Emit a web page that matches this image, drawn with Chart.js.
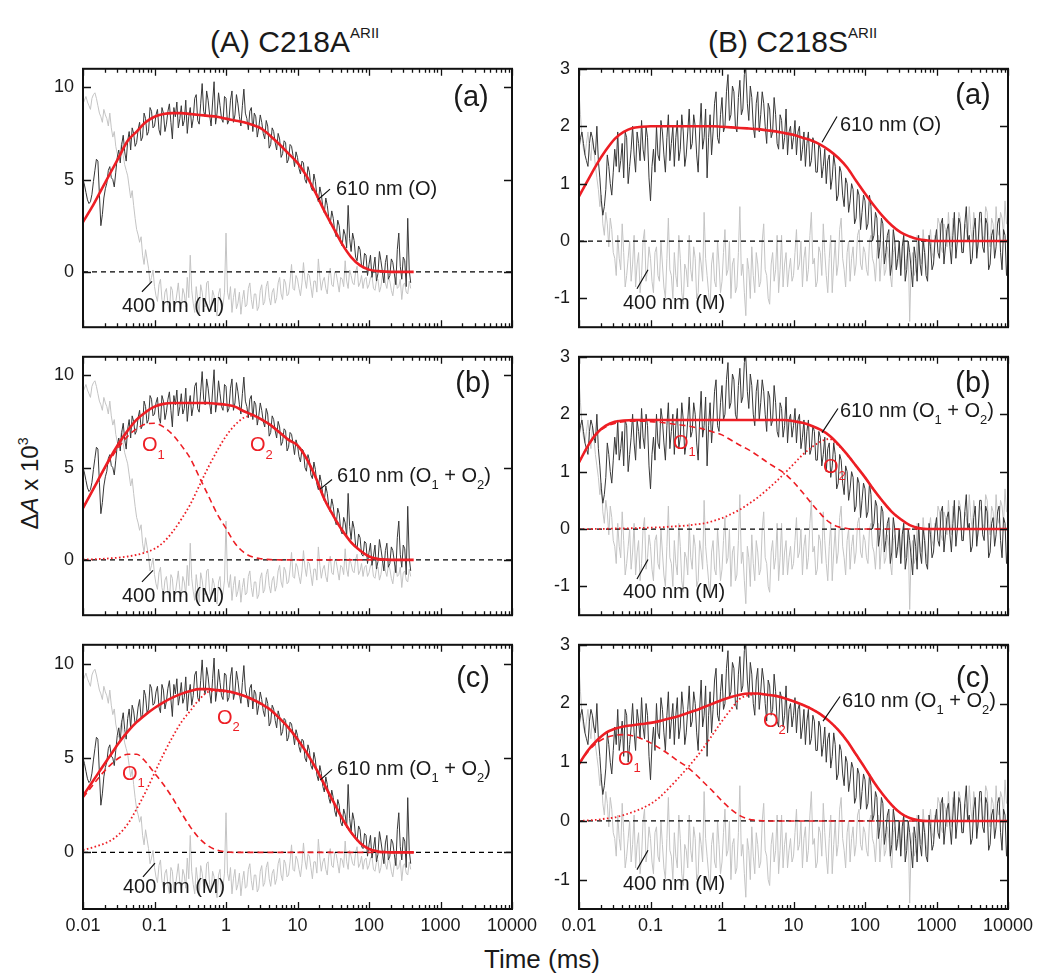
<!DOCTYPE html>
<html>
<head>
<meta charset="utf-8">
<title>Transient absorption, C218A / C218S</title>
<script src="https://cdn.jsdelivr.net/npm/chart.js@4.4.1/dist/chart.umd.min.js"></script>
<style>
  body { margin: 0; background: #fff; }
  #page { position: relative; width: 1037px; height: 974px; overflow: hidden; font-family: "Liberation Sans", Arial, sans-serif; color: #1a1a1a; }
  #page canvas { position: absolute; }
  .head { position: absolute; top: 15px; font-size: 30px; line-height: 36px; white-space: nowrap; }
  .head span { font-size: 15px; vertical-align: 14px; }
  #xtitle { position: absolute; left: 442px; top: 944px; width: 200px; text-align: center; font-size: 26px; line-height: 30px; }
  #ytitle { position: absolute; left: -74px; top: 465px; width: 200px; text-align: center; font-size: 24px; line-height: 30px; transform: rotate(-90deg); white-space: nowrap; }
  #ytitle span { font-size: 14px; vertical-align: 10px; }
</style>
</head>
<body>
<div id="page">
  <div class="head" style="left:210px">(A) C218A<span>ARII</span></div>
  <div class="head" style="left:708px">(B) C218S<span>ARII</span></div>
  <div id="ytitle">Δ<i>A</i> x 10<span>3</span></div>
  <div id="xtitle">Time (ms)</div>
  <canvas id="la"></canvas>
  <canvas id="lb"></canvas>
  <canvas id="lc"></canvas>
  <canvas id="ra"></canvas>
  <canvas id="rb"></canvas>
  <canvas id="rc"></canvas>
</div>
<script>
// time grids (ms): log steps inside each decade
const decadeStarts = [0.01, 0.1, 1, 10, 100, 1000];
const noiseSteps = [1, 1.049, 1.1, 1.155, 1.212, 1.271, 1.334, 1.4, 1.468, 1.54, 1.616, 1.696,
  1.778, 1.866, 1.957, 2.054, 2.154, 2.261, 2.371, 2.488, 2.61, 2.738, 2.873, 3.014,
  3.162, 3.318, 3.481, 3.652, 3.831, 4.019, 4.217, 4.424, 4.642, 4.87, 5.109, 5.36,
  5.623, 5.9, 6.19, 6.494, 6.813, 7.148, 7.499, 7.867, 8.254, 8.66, 9.085, 9.532];
const fitSteps = [1, 1.334, 1.778, 2.371, 3.162, 4.217, 5.623, 7.499];
const minorSteps = [2, 3, 4, 5, 6, 7, 8, 9];

const xTickValues = [0.01, 0.1, 1, 10, 100, 1000, 10000];
const xTickLabels = ['0.01', '0.1', '1', '10', '100', '1000', '10000'];
const yTicksA = [0, 5, 10];
const yTicksB = [-1, 0, 1, 2, 3];

// (A) C218A raw traces, 0.01 .. ~380 ms
const dark610A = [
  5.0, 4.7, 4.3, 3.9, 3.7, 3.8, 4.2, 4.9, 5.5, 6.1, 6.0, 4.2, 2.5, 3.1, 4.0, 4.5, 4.8, 5.5, 5.7, 5.1, 5.0, 4.6, 5.4, 6.2,
  6.6, 5.9, 6.9, 7.4, 6.5, 6.0, 7.1, 7.6, 6.6, 7.8, 7.5, 6.8, 7.0, 7.7, 8.1, 7.1, 7.3, 8.6, 8.3, 7.4, 7.6, 8.9, 8.7, 7.8,
  7.9, 8.5, 8.8, 7.7, 7.4, 8.9, 8.6, 7.6, 8.0, 8.7, 9.1, 8.1, 7.2, 8.9, 8.4, 9.2, 7.8, 8.3, 9.0, 7.9, 8.2, 9.3, 7.5, 8.4,
  8.9, 7.8, 8.3, 9.4, 9.6, 8.2, 8.0, 9.1, 10.2, 8.7, 8.4, 9.8, 9.3, 8.5, 7.9, 9.2, 10.3, 8.0, 8.6, 9.7, 9.0, 8.3, 8.1, 9.5,
  9.4, 8.0, 8.2, 9.3, 9.8, 8.1, 8.5, 9.6, 9.1, 8.4, 7.9, 9.0, 9.9, 8.6, 8.3, 7.7, 8.7, 8.9, 7.6, 8.6, 8.4, 7.3, 7.8, 8.5,
  8.1, 7.5, 7.2, 8.2, 7.9, 6.7, 6.9, 7.8, 7.6, 7.0, 6.6, 7.5, 7.2, 6.2, 6.4, 7.1, 7.0, 5.9, 6.1, 6.9, 6.8, 6.3, 5.7, 6.5,
  6.2, 5.6, 5.3, 6.0, 5.9, 5.0, 4.8, 5.7, 5.4, 4.6, 4.4, 5.3, 4.9, 4.1, 3.8, 4.6, 4.2, 3.5, 3.2, 4.0, 3.6, 2.9, 2.6, 3.3,
  2.9, 2.2, 1.9, 2.8, 2.5, 1.6, 1.4, 2.3, 2.0, 1.3, 3.6, 1.8, 1.1, 2.1, 1.7, 0.8, 0.6, 1.4, 1.2, 0.3, 0.2, 1.0, 0.9, -0.2,
  0.4, 0.9, -0.3, 0.2, 0.8, -0.5, -0.1, 1.1, 0.6, 0.0, -0.6, 0.5, 0.9, -0.4, -0.2, 0.7, 0.5, -0.1, -0.7, 1.2, 2.1, 0.3,
  -0.4, 0.8, 0.6, -0.8, 2.9, 0.1, -0.6
];
const gray400A = [
  9.1, 9.3, 9.5, 9.2, 9.0, 8.8, 9.4, 9.6, 9.7, 9.4, 9.0, 8.6, 8.4, 8.1, 8.8, 8.5, 8.3, 7.9, 8.6, 7.8, 7.3, 7.6, 6.8, 6.4,
  6.1, 6.6, 7.0, 6.3, 5.8, 5.5, 5.2, 4.6, 4.0, 4.4, 3.6, 2.9, 2.3, 2.0, 1.6, 1.9, 0.9, 0.4, 1.2, 0.7, 0.2, -0.6, -0.3, 0.1,
  -0.8, -1.3, -1.6, -0.7, -0.4, -1.5, -1.9, -1.1, -0.9, -1.7, -2.2, -0.8, -1.0, -2.1, -1.8, -1.2, -0.6, -1.6, -2.0, -0.9, -1.2, -1.9, -0.3, -1.4,
  0.9, -1.0, -1.7, -2.2, -0.8, -1.5, -2.3, -0.7, -1.1, -1.8, -1.9, -0.6, -0.5, -1.7, -2.1, -1.0, -1.3, -2.0, -2.4, -1.2, -0.9, -2.2, -1.8, -1.1,
  2.1, -1.1, -1.5, -0.8, -2.2, -1.4, -0.9, -2.0, -1.7, -1.1, -2.3, -1.5, -1.0, -1.9, -1.8, -0.9, -0.6, -1.5, -2.0, -1.2, -1.2, -2.1, -1.9, -1.0,
  -0.7, -1.8, -1.6, -0.8, -0.5, -1.4, -1.8, -1.1, -0.9, -1.7, -1.4, -0.6, -0.3, -1.2, -1.5, -0.4, -0.6, -1.3, -1.2, -0.5, 0.4, -0.9, -1.0, -0.2,
  -0.4, -0.9, -1.3, -0.6, 0.5, -0.4, -0.9, -0.1, -0.2, -0.8, -1.4, -0.5, -0.5, -1.1, 0.7, -0.3, -1.0, -0.5, -0.3, -0.9, -1.2, -0.2, 0.2, -0.7,
  -0.8, 0.0, -0.1, -0.6, -1.1, -0.3, -0.4, -0.8, 0.6, -0.5, -0.9, 0.1, -0.2, -0.6, -0.7, 0.0, 0.3, -0.8, -0.6, -0.2, -0.9, -0.4, -0.3, -0.9,
  -0.7, -0.3, -0.2, -0.9, -1.0, -0.5, -0.4, -1.1, -0.8, -0.2, 0.1, -0.6, -0.9, -0.3, -0.5, -1.0, -1.3, -0.6, -0.3, -0.9, -0.8, -0.4,
  -1.5, -0.7, -0.6, -1.1, -1.2, -0.5, -0.9
];
// (B) C218S raw traces, 0.01 .. 10000 ms
const dark610B = [
  1.6, 1.8, 1.9, 1.7, 1.5, 1.4, 1.3, 1.7, 1.9, 1.8, 1.6, 1.5, 2.0, 1.4, 1.1, 0.7, 0.45, 0.6, 0.9, 1.5, 1.3, 1.0, 0.8, 1.2,
  1.6, 1.3, 1.9, 1.2, 1.4, 1.7, 1.1, 1.9, 1.8, 1.0, 1.3, 1.6, 2.0, 1.5, 1.2, 1.9, 1.7, 1.4, 2.1, 1.6, 1.4, 2.0, 1.8, 1.1,
  0.7, 1.3, 1.6, 1.2, 2.0, 1.5, 1.4, 2.1, 1.9, 1.5, 1.2, 1.8, 2.2, 1.4, 1.7, 2.0, 1.3, 1.8, 2.1, 1.4, 1.6, 2.2, 1.9, 1.3,
  1.5, 1.9, 2.3, 1.6, 1.7, 2.2, 2.0, 1.5, 1.2, 1.9, 2.4, 1.6, 1.8, 2.3, 1.1, 1.8, 2.2, 1.5, 1.9, 2.4, 2.6, 1.8, 1.7, 2.2,
  2.5, 1.9, 2.0, 2.6, 2.9, 2.1, 2.2, 2.7, 2.6, 2.0, 1.9, 2.5, 2.8, 2.2, 2.3, 2.9, 3.0, 2.4, 2.1, 2.7, 2.5, 2.0, 1.8, 2.4,
  2.6, 1.9, 2.2, 2.6, 2.4, 2.0, 1.7, 2.4, 2.3, 1.8, 1.9, 2.5, 2.2, 1.7, 1.6, 2.2, 2.1, 1.6, 1.8, 2.3, 1.5, 1.9, 2.0, 1.6,
  1.8, 2.1, 1.5, 1.9, 2.0, 1.4, 1.6, 1.9, 1.3, 1.7, 1.9, 1.3, 1.4, 1.8, 1.7, 1.2, 1.2, 1.7, 1.6, 1.1, 1.3, 1.6, 1.0, 1.4,
  1.5, 0.9, 1.1, 1.5, 1.3, 0.7, 0.8, 1.3, 1.2, 0.8, 0.6, 1.1, 1.0, 0.5, 0.7, 1.0, 0.9, 0.3, 0.4, 0.9, 0.8, 0.2, 0.5, 0.8,
  0.7, 0.2, 0.3, 0.8, 0.6, 0.0, 0.1, 0.5, 0.4, -0.3, -0.1, 0.4, 0.3, -0.4, -0.2, 0.1, 0.2, -0.6, -0.4, 0.2, 0.0, -0.5, -0.3, 0.0,
  -0.6, -0.1, 0.1, -0.7, -0.5, 0.0, -0.2, -0.5, -0.8, -0.1, -0.3, -0.7, 0.1, -0.4, -0.6, 0.0, -0.2, -0.6, -0.7, 0.1, -0.1, -0.5, -0.4, 0.0,
  0.2, -0.2, -0.3, 0.3, 0.4, -0.4, -0.1, 0.2, 0.3, -0.1, -0.4, 0.1, 0.5, -0.3, 0.0, 0.4, 0.3, -0.2, -0.2, 0.3, 0.6, 0.0, 0.1, -0.4,
  -0.3, 0.2, 0.4, -0.3, 0.0, 0.5, 0.5, -0.1, -0.2, 0.4, 0.3, -0.5, -0.4, 0.1, 0.2, -0.3, -0.1, 0.3, 0.4, -0.2, -0.5, 0.2, 0.1, -0.6,
  -0.3
];
const gray400B = [
  2.6, 2.2, 1.8, 1.6, 1.5, 1.7, 1.9, 1.6, 1.4, 1.8, 1.6, 1.3, 1.1, 0.9, 0.6, 0.8, 0.3, 0.1, 0.5, 0.3, -0.1, 0.4, 0.2, -0.2,
  -0.3, -0.6, 0.1, -0.3, -0.5, 0.3, -0.2, -0.8, -0.6, -0.3, 0.0, -0.7, -0.4, 0.1, -0.8, -0.4, -0.2, -0.9, -0.6, 0.0, 0.2, -0.7, -0.5, -0.1,
  -0.3, -0.7, -0.9, -0.2, -0.1, -0.6, -0.7, 0.0, -0.4, -0.8, -1.0, -0.3, 0.4, -0.5, -0.6, -1.0, -0.2, -0.6, -0.8, 0.1, -0.3, -0.9, -1.1, -0.4,
  -0.5, -0.8, 0.1, -0.5, -0.7, -0.1, -0.3, -1.0, -0.9, -0.2, -0.4, -0.7, 0.5, -0.3, -0.6, -0.9, -1.2, -0.4, -0.2, -0.7, -0.8, 0.0, -0.4, -0.9,
  -0.7, -0.2, 0.2, -0.6, -0.5, 0.0, -1.0, -0.4, -0.3, -0.9, -0.8, -0.2, 0.6, -0.6, -0.4, -0.9, -1.3, -0.3, -0.5, -1.0, -0.1, -0.6, -0.9, -0.2,
  -0.4, -0.8, -0.7, 0.0, 0.3, -0.5, -0.6, -1.0, -1.1, -0.4, -0.2, -0.7, -0.5, 0.1, -0.9, -0.5, 0.1, -0.8, -0.4, -0.2, -0.8, -0.5, -0.3, -0.7,
  -0.6, -0.2, 0.2, -0.5, -0.4, 0.0, -0.8, -0.3, -0.1, -0.7, -0.5, 0.1, 0.5, -0.4, -0.3, -0.8, -0.7, -0.1, -0.2, -0.6, 0.3, -0.2, -0.6, -0.9,
  -0.3, 0.1, -0.9, -0.4, 0.0, -0.6, -0.4, 0.2, 0.4, -0.3, -0.5, -0.8, -0.2, 0.0, -0.7, -0.3, -0.1, -0.6, -0.4, 0.1, 0.2, -0.4, -0.5, -0.1,
  -0.2, -0.5, -0.6, 0.0, 0.1, -0.3, -0.4, -0.7, -0.2, 0.1, -0.7, -0.3, 0.0, -0.6, -0.5, -0.1, -0.3, -0.6, -0.8, -0.2, -0.1, -0.5, -0.4, 0.0,
  -0.6, -0.3, 0.1, -0.5, -0.3, -0.1, -1.4, -0.4, -0.2, -0.6, -0.5, 0.1, 0.0, -0.3, -0.4, 0.2, -0.1, -0.4, -0.6, 0.0, 0.2, -0.2, -0.3, 0.1,
  0.0, 0.4, 0.3, -0.1, -0.2, 0.3, 0.2, -0.1, 0.5, 0.1, -0.1, 0.4, 0.3, 0.0, 0.0, 0.5, 0.4, -0.1, -0.2, 0.3, 0.2, 0.0, 0.6, 0.2,
  0.0, 0.5, 0.3, -0.2, -0.1, 0.3, 0.4, 0.0, 0.1, 0.6, 0.5, 0.1, -0.1, 0.4, 0.3, 0.0, 0.6, 0.2, 0.1, 0.5, 0.4, 0.1, 0.7, 0.3,
  0.3
];

// fitted curves on the coarse grid
const fitA_a = [2.7, 3.5, 4.4, 5.3, 6.2, 7.1, 7.6, 8.1, 8.4, 8.55, 8.6, 8.6, 8.55, 8.5, 8.45, 8.4, 8.3, 8.2, 8.1, 7.95,
  7.75, 7.35, 6.9, 6.4, 5.9, 5.2, 4.3, 3.3, 2.4, 1.5, 0.8, 0.35, 0.12, 0.04, 0.01, 0, 0, 0];
const fitA_b = [2.8, 3.7, 4.6, 5.5, 6.3, 7.0, 7.6, 8.0, 8.3, 8.45, 8.5, 8.5, 8.5, 8.5, 8.5, 8.45, 8.4, 8.3, 8.05, 7.85,
  7.6, 7.3, 6.9, 6.5, 6.2, 5.5, 4.5, 3.3, 2.4, 1.6, 0.95, 0.5, 0.18, 0.05, 0.01, 0, 0, 0];
const o1A_b = [2.8, 3.7, 4.6, 5.4, 6.1, 6.7, 7.1, 7.35, 7.4, 7.2, 6.8, 6.2, 5.5, 4.5, 3.5, 2.5, 1.7, 0.9, 0.4, 0.15,
  0.05, 0.01, 0, 0, 0, 0, 0, 0, 0, 0, 0, 0, 0, 0, 0, 0, 0, 0];
const o2A_b = [0.02, 0.03, 0.05, 0.08, 0.12, 0.18, 0.27, 0.4, 0.6, 0.95, 1.5, 2.2, 3.0, 4.0, 5.0, 5.9, 6.7, 7.3, 7.7, 7.8,
  7.6, 7.3, 6.9, 6.5, 6.2, 5.5, 4.5, 3.3, 2.4, 1.6, 0.95, 0.5, 0.18, 0.05, 0.01, 0, 0, 0];
const fitA_c = [3.0, 3.7, 4.4, 5.1, 5.8, 6.4, 6.9, 7.3, 7.65, 7.95, 8.2, 8.4, 8.55, 8.65, 8.65, 8.6, 8.55, 8.45, 8.3, 8.1,
  7.85, 7.55, 7.1, 6.6, 6.0, 5.3, 4.5, 3.6, 2.7, 1.8, 1.05, 0.5, 0.18, 0.05, 0.01, 0, 0, 0];
const o1A_c = [2.9, 3.5, 4.1, 4.6, 5.0, 5.2, 5.2, 4.8, 4.2, 3.6, 2.9, 2.1, 1.35, 0.75, 0.35, 0.12, 0.03, 0, 0, 0,
  0, 0, 0, 0, 0, 0, 0, 0, 0, 0, 0, 0, 0, 0, 0, 0, 0, 0];
const o2A_c = [0.12, 0.25, 0.4, 0.6, 0.95, 1.5, 2.3, 3.2, 4.2, 5.2, 6.1, 6.9, 7.5, 8.1, 8.5, 8.55, 8.5, 8.45, 8.3, 8.1,
  7.85, 7.55, 7.1, 6.6, 6.0, 5.3, 4.5, 3.6, 2.7, 1.8, 1.05, 0.5, 0.18, 0.05, 0.01, 0, 0, 0];

const fitB_a = [0.78, 1.06, 1.34, 1.58, 1.78, 1.9, 1.97, 1.99, 2.0, 2.0, 2.0, 2.0, 2.0, 2.0, 2.0, 2.0,
  1.99, 1.98, 1.97, 1.96, 1.95, 1.93, 1.91, 1.88, 1.85, 1.8, 1.75, 1.68, 1.58, 1.45, 1.28, 1.05,
  0.83, 0.62, 0.43, 0.27, 0.15, 0.08, 0.03, 0.01, 0, 0, 0, 0, 0, 0, 0, 0, 0];
const fitB_b = [1.16, 1.45, 1.67, 1.8, 1.87, 1.89, 1.9, 1.9, 1.9, 1.9, 1.9, 1.9, 1.9, 1.9, 1.9, 1.9,
  1.9, 1.9, 1.9, 1.9, 1.9, 1.9, 1.9, 1.9, 1.88, 1.85, 1.8, 1.73, 1.63, 1.48, 1.3, 1.1,
  0.9, 0.68, 0.48, 0.3, 0.17, 0.07, 0.02, 0, 0, 0, 0, 0, 0, 0, 0, 0, 0];
const o1B_b = [1.16, 1.45, 1.66, 1.78, 1.84, 1.87, 1.88, 1.88, 1.87, 1.86, 1.84, 1.82, 1.8, 1.77, 1.74, 1.69,
  1.64, 1.55, 1.46, 1.38, 1.28, 1.17, 1.07, 0.97, 0.82, 0.64, 0.45, 0.27, 0.12, 0.04, 0.01, 0,
  0, 0, 0, 0, 0, 0, 0, 0, 0, 0, 0, 0, 0, 0, 0, 0, 0];
const o2B_b = [0, 0, 0.005, 0.005, 0.01, 0.01, 0.015, 0.02, 0.025, 0.03, 0.04, 0.05, 0.06, 0.08, 0.1, 0.14,
  0.19, 0.26, 0.34, 0.44, 0.55, 0.68, 0.82, 0.97, 1.13, 1.29, 1.42, 1.52, 1.57, 1.46, 1.3, 1.1,
  0.9, 0.68, 0.48, 0.3, 0.17, 0.07, 0.02, 0, 0, 0, 0, 0, 0, 0, 0, 0, 0];
const fitB_c = [0.97, 1.2, 1.37, 1.5, 1.57, 1.61, 1.63, 1.65, 1.67, 1.7, 1.74, 1.78, 1.83, 1.88, 1.94, 2.0,
  2.06, 2.11, 2.15, 2.17, 2.17, 2.15, 2.13, 2.09, 2.04, 1.98, 1.91, 1.82, 1.7, 1.55, 1.36, 1.13,
  0.9, 0.66, 0.45, 0.27, 0.13, 0.05, 0.01, 0, 0, 0, 0, 0, 0, 0, 0, 0, 0];
const o1B_c = [0.97, 1.18, 1.33, 1.42, 1.46, 1.47, 1.45, 1.4, 1.33, 1.24, 1.14, 1.03, 0.93, 0.8, 0.65, 0.5,
  0.34, 0.2, 0.09, 0.03, 0.01, 0, 0, 0, 0, 0, 0, 0, 0, 0, 0, 0,
  0, 0, 0, 0, 0, 0, 0, 0, 0, 0, 0, 0, 0, 0, 0, 0, 0];
const o2B_c = [0, 0.01, 0.02, 0.04, 0.06, 0.1, 0.15, 0.21, 0.29, 0.4, 0.55, 0.71, 0.88, 1.06, 1.26, 1.48,
  1.7, 1.9, 2.08, 2.14, 2.16, 2.15, 2.13, 2.09, 2.04, 1.98, 1.91, 1.82, 1.7, 1.55, 1.36, 1.13,
  0.9, 0.66, 0.45, 0.27, 0.13, 0.05, 0.01, 0, 0, 0, 0, 0, 0, 0, 0, 0, 0];

const noiseTime = decadeStarts.flatMap(d => noiseSteps.map(s => d * s)).concat([10000]);
const fitTime = decadeStarts.flatMap(d => fitSteps.map(s => d * s)).concat([10000]);
const xTicks = xTickValues.map(v => ({ value: v, major: true }))
  .concat(decadeStarts.flatMap(d => minorSteps.map(s => ({ value: d * s, major: false }))));

const FONT = '"Liberation Sans", Arial, sans-serif';
const RED = 'rgb(237, 30, 36)';
const DARK = '#383838';
const GRAY = '#c4c4c4';

Chart.defaults.font.family = FONT;
Chart.defaults.font.size = 18;
Chart.defaults.color = '#1a1a1a';

const ROWS = [63, 351, 639];
const PLOT_H = 270;
const COLS = {
  L: { canvasLeft: 0, width: 545, axisW: 83, padR: 33, yMin: -3, yMax: 11, yTicks: yTicksA, dark: dark610A, gray: gray400A },
  R: { canvasLeft: 520, width: 517, axisW: 59, padR: 29, yMin: -1.5, yMax: 3, yTicks: yTicksB, dark: dark610B, gray: gray400B }
};

const O12 = ['610 nm (O', ['1'], ' + O', ['2'], ')'];
const panels = [
  { id: 'la', side: 'L', row: 0, total: fitA_a,
    tag: [2673, 9.43, '(a)'],
    notes: [[34.5, 4.48, ['610 nm (O)']], [0.0351, -1.86, ['400 nm (M)']]],
    leaders: [[19.4, 3.92, 28.5, 4.48], [0.0668, -1.08, 0.0923, -0.52]] },
  { id: 'lb', side: 'L', row: 1, total: fitA_b, o1: o1A_b, o2: o2A_b,
    tag: [2851, 9.53, '(b)'],
    notes: [[35.6, 4.51, O12], [0.0351, -1.97, ['400 nm (M)']],
            [0.0668, 6.17, ['O', ['1']], RED], [2.17, 6.17, ['O', ['2']], RED]],
    leaders: [[20.7, 3.83, 30.4, 4.35], [0.0668, -1.19, 0.0953, -0.57]] },
  { id: 'lc', side: 'L', row: 2, total: fitA_c, o1: o1A_c, o2: o2A_c,
    tag: [2851, 9.17, '(c)'],
    notes: [[35.6, 4.4, O12], [0.0362, -1.87, ['400 nm (M)']],
            [0.0351, 4.15, ['O', ['1']], RED], [0.748, 7.1, ['O', ['2']], RED]],
    leaders: [[20.7, 3.83, 30.4, 4.4], [0.069, -1.3, 0.1016, -0.57]] },
  { id: 'ra', side: 'R', row: 0, total: fitB_a,
    tag: [3236, 2.52, '(a)'],
    notes: [[44.7, 2.02, ['610 nm (O)']], [0.0412, -1.08, ['400 nm (M)']]],
    leaders: [[25.1, 1.72, 40.6, 2.17], [0.0647, -0.83, 0.0923, -0.5]] },
  { id: 'rb', side: 'R', row: 1, total: fitB_b, o1: o1B_b, o2: o2B_b,
    tag: [3236, 2.52, '(b)'],
    notes: [[44.7, 2.05, O12], [0.0412, -1.1, ['400 nm (M)']],
            [0.2065, 1.49, ['O', ['1']], RED], [25.9, 1.07, ['O', ['2']], RED]],
    leaders: [[25.1, 1.68, 41.9, 2.1], [0.0647, -0.87, 0.0923, -0.53]] },
  { id: 'rc', side: 'R', row: 2, total: fitB_c, o1: o1B_c, o2: o2B_c,
    tag: [3236, 2.42, '(c)'],
    notes: [[47.6, 2.03, O12], [0.0412, -1.08, ['400 nm (M)']],
            [0.0351, 1.05, ['O', ['1']], RED], [3.74, 1.7, ['O', ['2']], RED]],
    leaders: [[25.9, 1.7, 44.7, 2.12], [0.0647, -0.83, 0.0923, -0.5]] }
];

function pts(xs, ys) {
  return ys.map((v, i) => ({ x: xs[i], y: v }));
}

function drawParts(ctx, x, y, parts, size, color, center) {
  const big = size + 'px ' + FONT;
  const small = Math.round(size * 0.65) + 'px ' + FONT;
  let w = 0;
  parts.forEach(p => {
    ctx.font = Array.isArray(p) ? small : big;
    w += ctx.measureText(Array.isArray(p) ? p[0] : p).width;
  });
  let cx = center ? x - w / 2 : x;
  ctx.fillStyle = color;
  ctx.textAlign = 'left';
  ctx.textBaseline = 'middle';
  parts.forEach(p => {
    const sub = Array.isArray(p);
    const s = sub ? p[0] : p;
    ctx.font = sub ? small : big;
    ctx.fillText(s, cx, sub ? y + size * 0.45 : y);
    cx += ctx.measureText(s).width;
  });
}

// frame with inward ticks on all four sides, plus the text notes
function framePlugin(p) {
  return {
    id: 'frame',
    afterDraw(chart) {
      const { ctx, chartArea: a, scales: { x, y } } = chart;
      ctx.save();
      ctx.strokeStyle = '#111';
      ctx.lineWidth = 1.3;
      ctx.beginPath();
      x.ticks.forEach(t => {
        const px = Math.round(x.getPixelForValue(t.value)) + 0.5;
        const len = t.major ? 7 : 4;
        ctx.moveTo(px, a.bottom); ctx.lineTo(px, a.bottom - len);
        ctx.moveTo(px, a.top); ctx.lineTo(px, a.top + len);
      });
      y.ticks.forEach(t => {
        const py = Math.round(y.getPixelForValue(t.value)) + 0.5;
        ctx.moveTo(a.left, py); ctx.lineTo(a.left + 8, py);
        ctx.moveTo(a.right, py); ctx.lineTo(a.right - 8, py);
      });
      ctx.stroke();
      ctx.lineWidth = 2;
      ctx.strokeRect(a.left, a.top, a.right - a.left, a.bottom - a.top);

      ctx.lineWidth = 1.2;
      ctx.beginPath();
      p.leaders.forEach(l => {
        ctx.moveTo(x.getPixelForValue(l[0]), y.getPixelForValue(l[1]));
        ctx.lineTo(x.getPixelForValue(l[2]), y.getPixelForValue(l[3]));
      });
      ctx.stroke();
      p.notes.forEach(n => {
        drawParts(ctx, x.getPixelForValue(n[0]), y.getPixelForValue(n[1]), n[2], 20, n[3] || '#1a1a1a', false);
      });
      drawParts(ctx, x.getPixelForValue(p.tag[0]), y.getPixelForValue(p.tag[1]), [p.tag[2]], 29, '#1a1a1a', true);
      ctx.restore();
    }
  };
}

function makePanel(p) {
  const col = COLS[p.side];
  const bottomAxis = p.row === 2;
  const padTop = 14;
  const padBottom = bottomAxis ? 4 : 14;
  const xH = bottomAxis ? 36 : 0;
  const canvas = document.getElementById(p.id);
  canvas.width = col.width;
  canvas.height = padTop + PLOT_H + xH + padBottom;
  canvas.style.left = col.canvasLeft + 'px';
  canvas.style.top = (ROWS[p.row] - padTop) + 'px';

  const datasets = [
    { data: pts(noiseTime, col.gray), borderColor: GRAY, borderWidth: 1, order: 5 },
    { data: [{ x: 0.01, y: 0 }, { x: 10000, y: 0 }], borderColor: '#000', borderWidth: 1.2, borderDash: [5, 4], order: 4 },
    { data: pts(noiseTime, col.dark), borderColor: DARK, borderWidth: 1, order: 3 }
  ];
  if (p.o1) {
    datasets.push({ data: pts(fitTime, p.o1), borderColor: RED, borderWidth: 1.6, borderDash: [6, 4],
                    cubicInterpolationMode: 'monotone', order: 2 });
    datasets.push({ data: pts(fitTime, p.o2), borderColor: RED, borderWidth: 1.8, borderDash: [1.6, 2.4],
                    cubicInterpolationMode: 'monotone', order: 2 });
  }
  datasets.push({ data: pts(fitTime, p.total), borderColor: RED, borderWidth: 2.6,
                  cubicInterpolationMode: 'monotone', order: 1 });
  datasets.forEach(d => { d.pointRadius = 0; d.fill = false; });

  new Chart(canvas, {
    type: 'line',
    data: { datasets },
    options: {
      responsive: false,
      animation: false,
      events: [],
      layout: { padding: { top: padTop, bottom: padBottom, left: 0, right: col.padR } },
      plugins: { legend: { display: false }, tooltip: { enabled: false } },
      scales: {
        x: {
          type: 'logarithmic', min: 0.01, max: 10000,
          grid: { display: false, drawTicks: false },
          border: { display: false },
          ticks: {
            display: bottomAxis, autoSkip: false, maxRotation: 0, padding: 6,
            callback: v => {
              const k = xTickValues.indexOf(v);
              return k < 0 ? '' : xTickLabels[k];
            }
          },
          afterBuildTicks: s => { s.ticks = xTicks.map(t => ({ value: t.value, major: t.major })); },
          afterFit: s => { s.height = xH; }
        },
        y: {
          min: col.yMin, max: col.yMax,
          grid: { display: false, drawTicks: false },
          border: { display: false },
          ticks: { padding: 9 },
          afterBuildTicks: s => { s.ticks = col.yTicks.map(v => ({ value: v })); },
          afterFit: s => { s.width = col.axisW; }
        }
      }
    },
    plugins: [framePlugin(p)]
  });
}

panels.forEach(makePanel);
</script>
</body>
</html>
